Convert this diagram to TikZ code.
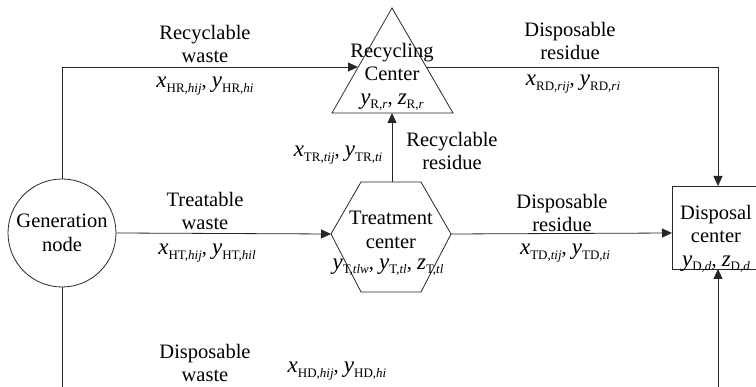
\documentclass[tikz,border=0pt]{standalone}
\usepackage{fontspec}
\setmainfont{Liberation Serif}
\usetikzlibrary{arrows.meta}
\newcommand\vv[3]{{\fontsize{23}{24}\selectfont\textit{#1}}\raisebox{-4.5pt}{\fontsize{13}{14}\selectfont #2,\textit{#3}}}
\begin{document}
\begin{tikzpicture}[x=1pt,y=-1pt,
  line/.style={line width=0.8pt,draw=black!85},
  arr/.style={line, -{Triangle[length=10pt,width=9pt]}},
  lbl/.style={font=\fontsize{20.5}{23.5}\selectfont, align=center, inner sep=0pt},
  shapebox/.style={line width=0.8pt,draw=black!85}]
\useasboundingbox (0,0) rectangle (756,387);
\clip (0,0) rectangle (756,387);
% shapes
\node[shapebox, circle, minimum size=108pt, inner sep=0pt] (gen) at (62,233) {};
\coordinate (ta) at (392,8);
\coordinate (tl) at (332,113);
\coordinate (tr) at (453,113);
\draw[shapebox] (ta) -- (tl) -- (tr) -- cycle;
\coordinate (h1) at (331,234);
\coordinate (h2) at (361,182);
\coordinate (h3) at (421,182);
\coordinate (h4) at (451,234);
\coordinate (h5) at (421,292);
\coordinate (h6) at (361,292);
\draw[shapebox] (h1) -- (h2) -- (h3) -- (h4) -- (h5) -- (h6) -- cycle;
\node[shapebox, rectangle, minimum width=96pt, minimum height=83pt, inner sep=0pt] (dc) at (720,227.5) {};
% anchor coordinates
\coordinate (rcin) at (358,67);
\coordinate (rcout) at (426,67);
\coordinate (rcbase) at (392,113);
\coordinate (tctop) at (392,182);
\coordinate (dctop) at (718,186);
\coordinate (dcbot) at (718,269);
\coordinate (dcleft) at (672,233);
\coordinate (genbot) at (62,287);
\coordinate (bottomL) at (62,395);
\coordinate (bottomR) at (718,395);
% connectors
\draw[arr] (gen.north) |- (rcin);
\draw[arr] (rcout) -| (dctop);
\draw[arr] (tctop) -- (rcbase);
\draw[arr] (gen.east) -- (h1);
\draw[arr] (h4) -- (dcleft);
\draw[line] (genbot) -- (bottomL);
\draw[arr] (bottomR) -- (dcbot);
% labels
\node[lbl] (l1) at (205,44) {Recyclable\\waste};
\node[lbl] (m1) at (205,86) {\vv{x}{HR}{hij}, \vv{y}{HR}{hi}};
\node[lbl] (rct) at (392,77) {Recycling\\Center\\\vv{y}{R}{r}, \vv{z}{R}{r}};
\node[lbl] (l2) at (570,41) {Disposable\\residue};
\node[lbl] (m2) at (573,84) {\vv{x}{RD}{rij}, \vv{y}{RD}{ri}};
\node[lbl] (m3) at (338,155) {\vv{x}{TR}{tij}, \vv{y}{TR}{ti}};
\node[lbl] (l3) at (452,151) {Recyclable\\residue};
\node[lbl] (gent) at (62,233) {Generation\\node};
\node[lbl] (l4) at (205,211) {Treatable\\waste};
\node[lbl] (m4) at (207,253) {\vv{x}{HT}{hij}, \vv{y}{HT}{hil}};
\node[lbl] (tct) at (391,230) {Treatment\\center};
\node[lbl] (m5) at (388,267) {\vv{y}{T}{tlw}, \vv{y}{T}{tl}, \vv{z}{T}{tl}};
\node[lbl] (l5) at (562,213) {Disposable\\residue};
\node[lbl] (m6) at (565,253) {\vv{x}{TD}{tij}, \vv{y}{TD}{ti}};
\node[lbl] (dct) at (716,239) {Disposal\\center\\\vv{y}{D}{d}, \vv{z}{D}{d}};
\node[lbl] (l6) at (205,363) {Disposable\\waste};
\node[lbl] (m7) at (337,371) {\vv{x}{HD}{hij}, \vv{y}{HD}{hi}};
\end{tikzpicture}
\end{document}
